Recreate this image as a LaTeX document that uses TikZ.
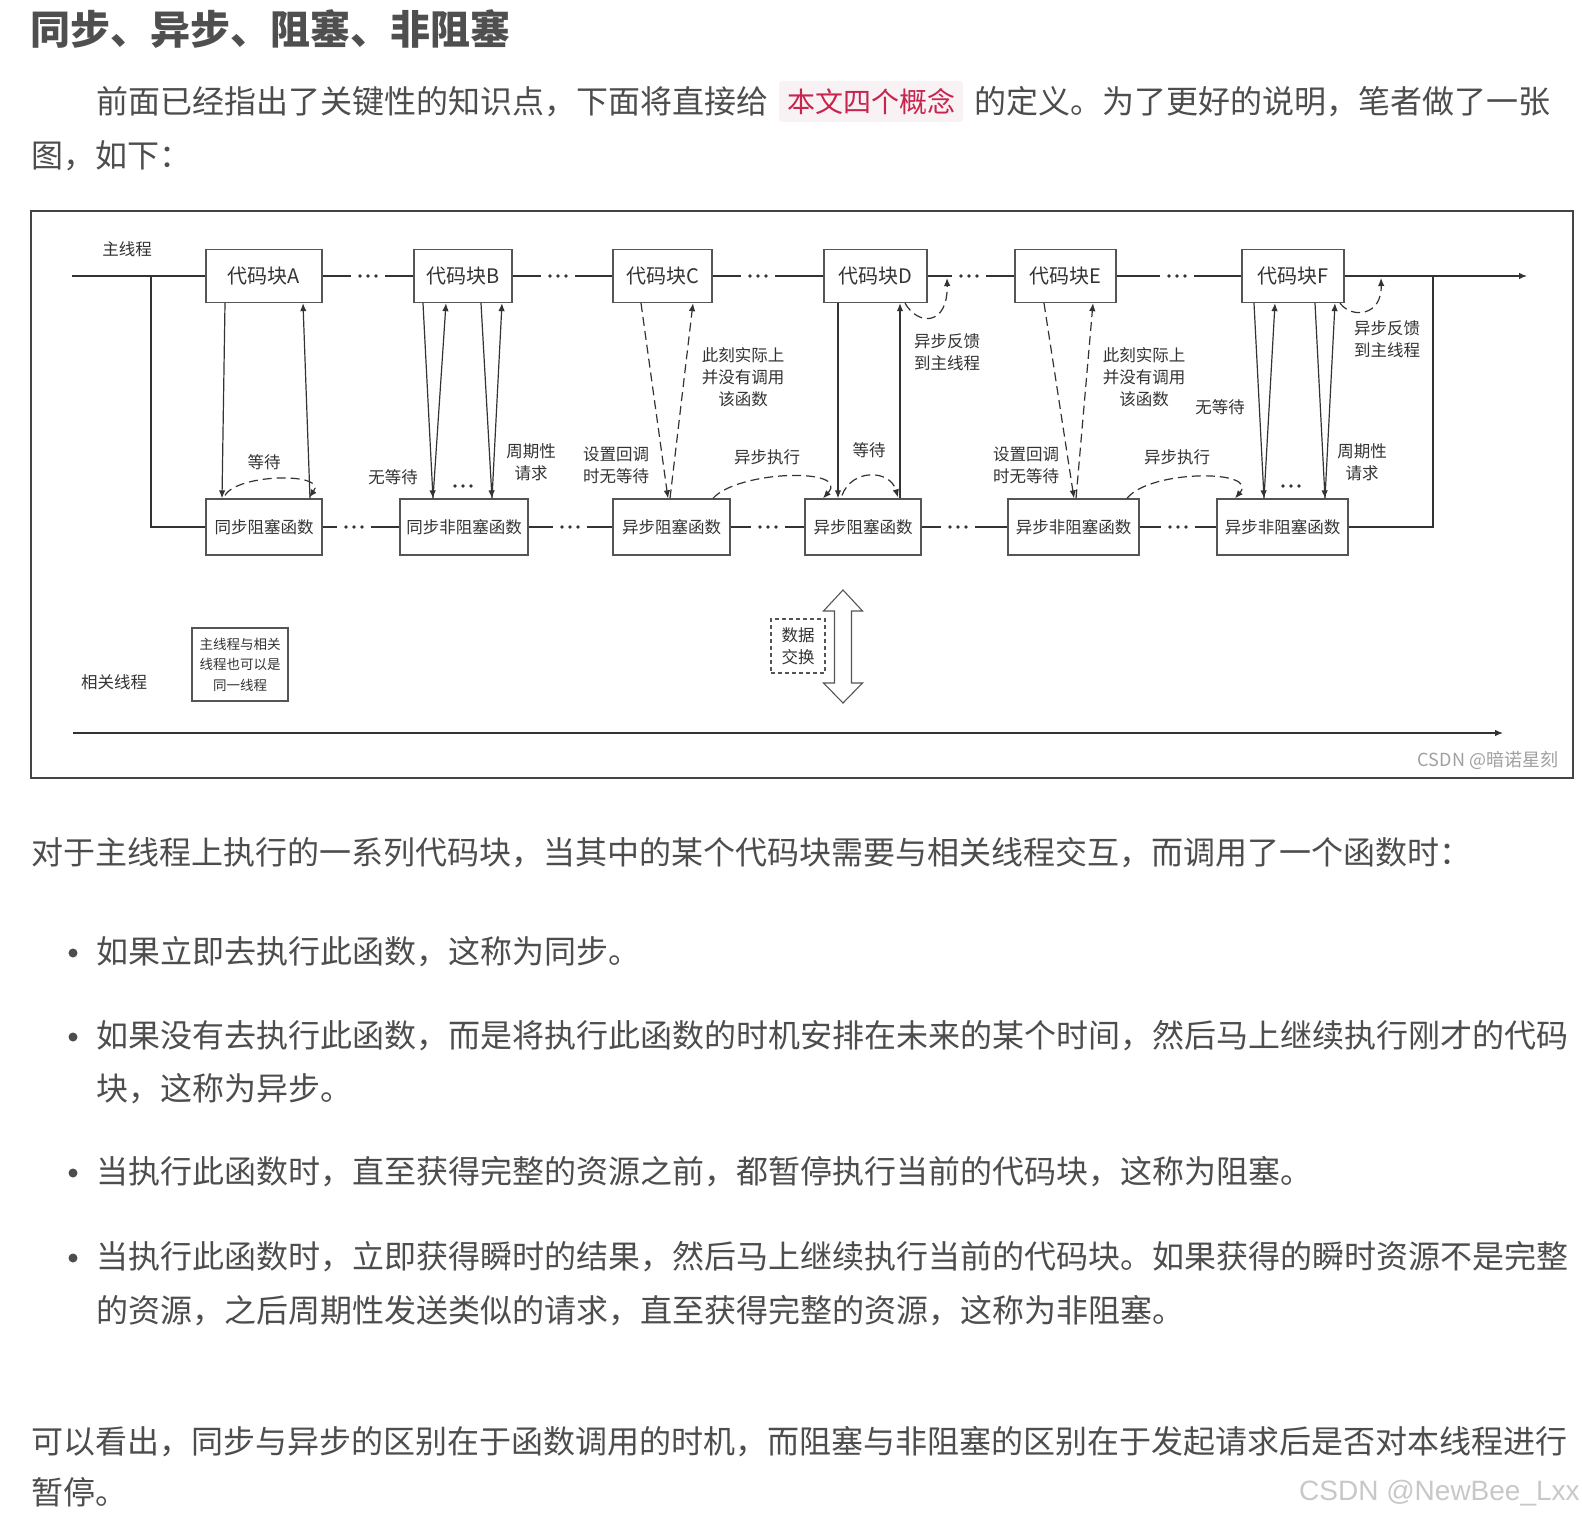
\documentclass[tikz,border=0pt]{standalone}
\usepackage{fontspec}
\setmainfont{Noto Sans CJK SC}
\newfontfamily\latinfont{Liberation Sans}
\usetikzlibrary{arrows.meta,calc}
\definecolor{bodytxt}{HTML}{4D4D4D}
\definecolor{titletxt}{HTML}{4F4F4F}
\definecolor{codebg}{HTML}{F9F2F4}
\definecolor{codetxt}{HTML}{C7254E}
\definecolor{dline}{HTML}{333333}
\definecolor{dbox}{HTML}{555555}
\definecolor{dtext}{HTML}{333333}
\definecolor{frame}{HTML}{444444}
\definecolor{wmdark}{HTML}{A0A0A0}
\definecolor{wmlight}{HTML}{C8C8C8}
\begin{document}
\begin{tikzpicture}[x=1pt,y=-1pt,
 bodyline/.style={anchor=west,inner sep=0pt,text=bodytxt,font=\fontsize{32pt}{32pt}\selectfont,text height=28.2pt,text depth=3.8pt},
 block/.style={draw=dbox,line width=1.3pt,minimum height=53pt,inner sep=0pt,text=dtext,font=\fontsize{20pt}{20pt}\selectfont},
 fnbox/.style={draw=dbox,line width=1.3pt,minimum height=56pt,inner sep=0pt,text=dtext,font=\fontsize{16.5pt}{16.5pt}\selectfont},
 lbl/.style={text=dtext,inner sep=0pt,align=center,font=\fontsize{16.5pt}{22pt}\selectfont},
 dotsnode/.style={minimum width=#1,minimum height=7pt,inner sep=0pt,path picture={\foreach \dd in {-8,0,8}{\fill[dline] ($(path picture bounding box.center)+(\dd,0)$) circle (1.9pt);}}},
 dotsnode/.default=34pt,
 conn/.style={draw=dline,line width=1.2pt},
 arr/.style={conn,-{Latex[length=8pt,width=6.5pt]}},
 darr/.style={arr,dash pattern=on 9pt off 5pt},
 bulletdot/.style={circle,fill=bodytxt,inner sep=0pt,minimum size=9pt}
]
\useasboundingbox (0,0) rectangle (1582,1522);
\fill[white] (0,0) rectangle (1582,1522);

% ---------- text above ----------
\node[anchor=west,inner sep=0pt,text=titletxt,font=\bfseries\fontsize{40pt}{40pt}\selectfont,text height=35.2pt,text depth=4.8pt] (title) at (30,29) {同步、异步、阻塞、非阻塞};
\node[bodyline] (p1a) at (96,101) {前面已经指出了关键性的知识点，下面将直接给};
\node[fill=codebg,rounded corners=3pt,minimum width=184pt,minimum height=41pt,inner sep=0pt,text=codetxt,font=\fontsize{28pt}{28pt}\selectfont] (code) at (871,101.5) {本文四个概念};
\node[bodyline] (p1b) at (974,101) {的定义。为了更好的说明，笔者做了一张};
\node[bodyline] (p2) at (31,155) {图，如下：};

% ---------- diagram frame ----------
\draw[draw=frame,line width=1.5pt] (31,211) rectangle (1573,778);

% top row
\node[block,minimum width=116pt] (A) at (264,276) {代码块A};
\node[block,minimum width=98pt] (B) at (463,276) {代码块B};
\node[block,minimum width=99pt] (C) at (662.5,276) {代码块C};
\node[block,minimum width=103pt] (D) at (875.5,276) {代码块D};
\node[block,minimum width=101pt] (E) at (1065.5,276) {代码块E};
\node[block,minimum width=102pt] (F) at (1293,276) {代码块F};
\node[dotsnode] (d1) at (368,276) {};
\node[dotsnode] (d2) at (558,276) {};
\node[dotsnode] (d3) at (758,276) {};
\node[dotsnode] (d4) at (969,276) {};
\node[dotsnode] (d5) at (1177,276) {};

% bottom row
\node[fnbox,minimum width=116pt] (SB) at (264,527) {同步阻塞函数};
\node[fnbox,minimum width=128pt] (SNB) at (464,527) {同步非阻塞函数};
\node[fnbox,minimum width=117pt] (AB1) at (671.5,527) {异步阻塞函数};
\node[fnbox,minimum width=116pt] (AB2) at (863,527) {异步阻塞函数};
\node[fnbox,minimum width=131pt] (ANB1) at (1073.5,527) {异步非阻塞函数};
\node[fnbox,minimum width=131pt] (ANB2) at (1282.5,527) {异步非阻塞函数};
\node[dotsnode] (e1) at (354,527) {};
\node[dotsnode] (e2) at (570,527) {};
\node[dotsnode] (e3) at (768,527) {};
\node[dotsnode] (e4) at (958,527) {};
\node[dotsnode] (e5) at (1178,527) {};

\coordinate (ms) at (72,276);
\coordinate (lb) at (151,276);
\coordinate (rb) at (1433,276);
\coordinate (me) at (1527,276);

\draw[conn] (ms) -- (A) -- (d1) -- (B) -- (d2) -- (C) -- (d3) -- (D) -- (d4) -- (E) -- (d5) -- (F);
\draw[arr] (F) -- (me);
\draw[conn] (lb) |- (SB);
\draw[conn] (SB) -- (e1) -- (SNB) -- (e2) -- (AB1) -- (e3) -- (AB2) -- (e4) -- (ANB1) -- (e5) -- (ANB2);
\draw[conn] (ANB2) -| (rb);

% A: synchronous blocking
\draw[arr] ($(A.south)+(-39,0)$) -- ($(SB.north)+(-42,0)$);
\draw[arr] ($(SB.north)+(46,0)$) -- ($(A.south)+(39,0)$);
\draw[darr] ($(SB.north)+(-39,-3)$) .. controls +(13,-22) and +(19,-25) .. ($(SB.north)+(45,-1)$);

% B: synchronous non-blocking
\draw[arr] ($(B.south)+(-40,0)$) -- ($(SNB.north)+(-31,0)$);
\draw[arr] ($(SNB.north)+(-31,0)$) -- ($(B.south)+(-17,0)$);
\draw[arr] ($(B.south)+(18,0)$) -- ($(SNB.north)+(28,0)$);
\draw[arr] ($(SNB.north)+(28,0)$) -- ($(B.south)+(39,0)$);
\node[dotsnode=22pt] (bd) at (463,486) {};

% C: asynchronous (dashed)
\draw[darr] ($(C.south)+(-21.5,0)$) -- ($(AB1.north)+(-3.5,0)$);
\draw[darr] ($(AB1.north)+(-1.5,0)$) -- ($(C.south)+(30.5,0)$);
\draw[darr] ($(AB1.north)+(41.5,0)$) .. controls +(25,-28) and +(28,-31) .. ($(AB2.north)+(-40,0)$);

% D: asynchronous blocking
\draw[arr] ($(D.south)+(-37.5,0)$) -- ($(AB2.north)+(-25,0)$);
\draw[arr] ($(AB2.north)+(37,0)$) -- ($(D.south)+(24.5,0)$);
\draw[darr] ($(AB2.north)+(-21,-3)$) .. controls +(10,-27) and +(-8,-28) .. ($(AB2.north)+(35,-1)$);
\coordinate (fbD) at (947,278);
\draw[darr] ($(D.south)+(29.5,0)$) .. controls +(13,23) and +(1,48) .. (fbD);

% E: asynchronous non-blocking
\draw[darr] ($(E.south)+(-21.5,0)$) -- ($(ANB1.north)+(0.5,0)$);
\draw[darr] ($(ANB1.north)+(2.5,0)$) -- ($(E.south)+(27.5,0)$);
\draw[darr] ($(ANB1.north)+(53.5,0)$) .. controls +(23,-29) and +(25,-29) .. ($(ANB2.north)+(-47.5,0)$);

% F
\draw[arr] ($(F.south)+(-39,0)$) -- ($(ANB2.north)+(-18.5,0)$);
\draw[arr] ($(ANB2.north)+(-18.5,0)$) -- ($(F.south)+(-18,0)$);
\draw[arr] ($(F.south)+(22,0)$) -- ($(ANB2.north)+(42.5,0)$);
\draw[arr] ($(ANB2.north)+(42.5,0)$) -- ($(F.south)+(42,0)$);
\node[dotsnode=22pt] (fd) at (1291,486) {};
\coordinate (fbF) at (1381,278);
\draw[darr] ($(F.south)+(47,0)$) .. controls +(12,16) and +(1,38) .. (fbF);

% labels
\node[lbl] (lmain) at (127,249) {主线程};
\node[lbl] (lwA) at (264,462) {等待};
\node[lbl] (lnwB) at (393,477) {无等待};
\node[lbl] (lpB) at (531,462) {周期性\\请求};
\node[lbl] (lcbC) at (616,465) {设置回调\\时无等待};
\node[lbl] (lnoC) at (743,377) {此刻实际上\\并没有调用\\该函数};
\node[lbl] (lexC) at (767,457) {异步执行};
\node[lbl] (lwD) at (869,450) {等待};
\node[lbl] (lfbD) at (947,352) {异步反馈\\到主线程};
\node[lbl] (lcbE) at (1026,465) {设置回调\\时无等待};
\node[lbl] (lnoE) at (1144,377) {此刻实际上\\并没有调用\\该函数};
\node[lbl] (lnwF) at (1220,407) {无等待};
\node[lbl] (lexE) at (1177,457) {异步执行};
\node[lbl] (lpF) at (1362,462) {周期性\\请求};
\node[lbl] (lfbF) at (1387,339) {异步反馈\\到主线程};

% related thread
\node[lbl] (lrel) at (114,682) {相关线程};
\node[draw=dbox,line width=1.3pt,minimum width=96pt,minimum height=73pt,inner sep=0pt,align=center,text=dtext,font=\fontsize{13.5pt}{20.5pt}\selectfont] (same) at (240,664.5) {主线程与相关\\线程也可以是\\同一线程};
\coordinate (rs) at (73,733);
\coordinate (re) at (1503,733);
\draw[arr] (rs) -- (re);

\node[draw=dbox,line width=1.2pt,dash pattern=on 4pt off 3pt,minimum width=54pt,minimum height=54pt,inner sep=0pt,align=center,text=dtext,font=\fontsize{16.5pt}{22pt}\selectfont] (dx) at (798,646) {数据\\交换};
\draw[draw=dbox,line width=1.1pt,fill=white] (843,590) -- (862.5,611) -- (851.5,611) -- (851.5,683) -- (862.5,683) -- (843,703) -- (823.5,683) -- (834.5,683) -- (834.5,611) -- (823.5,611) -- cycle;

\node[text=wmdark,inner sep=0pt,font=\fontsize{18pt}{18pt}\selectfont] (wm1) at (1488,760) {CSDN @暗诺星刻};

% ---------- text below ----------
\node[bodyline] (q0) at (31,852) {对于主线程上执行的一系列代码块，当其中的某个代码块需要与相关线程交互，而调用了一个函数时：};
\node[bulletdot] (b1) at (73,953) {};
\node[bodyline] (q1) at (96,951) {如果立即去执行此函数，这称为同步。};
\node[bulletdot] (b2) at (73,1037) {};
\node[bodyline] (q2a) at (96,1035) {如果没有去执行此函数，而是将执行此函数的时机安排在未来的某个时间，然后马上继续执行刚才的代码};
\node[bodyline] (q2b) at (96,1088) {块，这称为异步。};
\node[bulletdot] (b3) at (73,1173) {};
\node[bodyline] (q3) at (96,1171) {当执行此函数时，直至获得完整的资源之前，都暂停执行当前的代码块，这称为阻塞。};
\node[bulletdot] (b4) at (73,1258) {};
\node[bodyline] (q4a) at (96,1256) {当执行此函数时，立即获得瞬时的结果，然后马上继续执行当前的代码块。如果获得的瞬时资源不是完整};
\node[bodyline] (q4b) at (96,1310) {的资源，之后周期性发送类似的请求，直至获得完整的资源，这称为非阻塞。};
\node[bodyline] (q5a) at (31,1441) {可以看出，同步与异步的区别在于函数调用的时机，而阻塞与非阻塞的区别在于发起请求后是否对本线程进行};
\node[bodyline] (q5b) at (31,1492) {暂停。};
\node[anchor=west,inner sep=0pt,text=wmlight,font=\latinfont\fontsize{28pt}{28pt}\selectfont] (wm2) at (1299,1493) {CSDN @NewBee\_Lxx};
\end{tikzpicture}
\end{document}
